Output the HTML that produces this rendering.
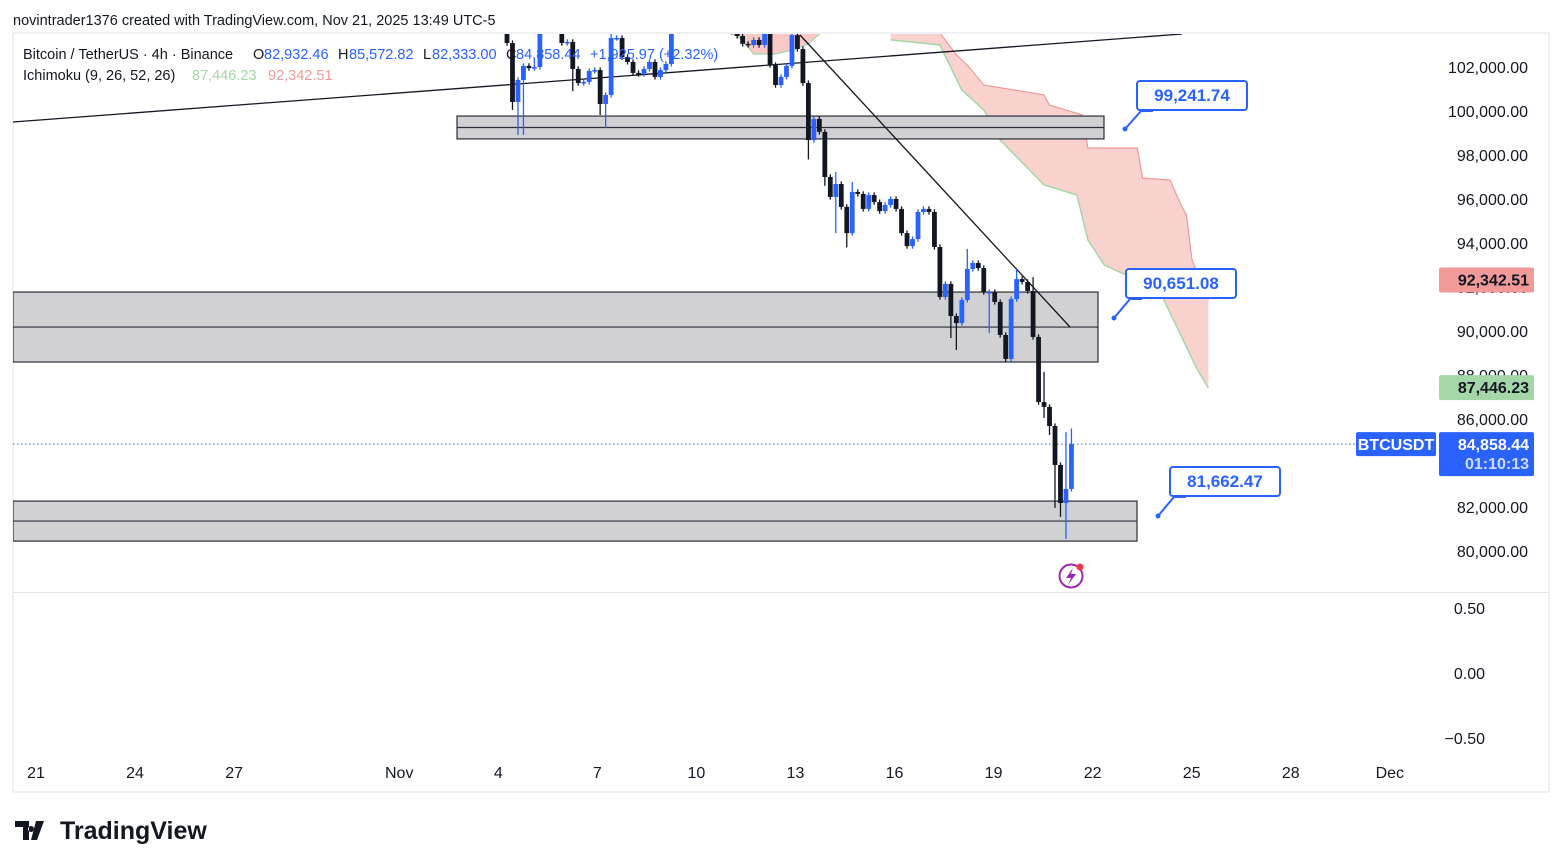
<!DOCTYPE html>
<html><head><meta charset="utf-8">
<style>
html,body{margin:0;padding:0;background:#fff;}
svg{display:block;font-family:"Liberation Sans",sans-serif;}
</style></head>
<body>
<svg id="chart" width="1563" height="868" viewBox="0 0 1563 868">
  <defs><clipPath id="plotclip"><rect x="13" y="34" width="1423" height="558"/></clipPath></defs>
  <rect x="13" y="33" width="1536" height="759" fill="#fff" stroke="#e0e3eb"/>
  <text x="13" y="25" font-size="14.5" fill="#131722">novintrader1376 created with TradingView.com, Nov 21, 2025 13:49 UTC-5</text>
  <g id="plot" clip-path="url(#plotclip)"></g>
  <line x1="13" y1="592.5" x2="1549" y2="592.5" stroke="#e0e3eb"/>
  <g id="axes"></g>
  <g id="overlay"></g>
  <g>
    <path d="M15 821h14v19h-6v-13h-8z M31 826a3 3 0 1 0 0.1 0z M36 821h8l-7 19h-6z" fill="#131722"/>
    <text x="60" y="839" font-size="25" font-weight="bold" fill="#131722">TradingView</text>
  </g>
</svg>
<script>
const closes=[103090,100410,101410,102050,101950,102000,103680,103910,104050,103910,103090,103140,101910,101270,101320,101820,101860,100320,100730,103320,103320,102450,102230,101730,101680,101910,102230,101550,101860,102140,103680,
104200,104800,105300,104900,105600,106000,105400,104700,104300,103900,103600,
103410,103050,103000,103230,103000,103500,102090,101180,101550,102050,103450,102820,101270,98680,99640,99050,97000,96090,96680,95640,94450,96320,96230,95550,96180,95860,95450,95730,96000,95550,94450,93860,94180,95410,95550,95410,93820,91550,92140,90680,90360,91410,92820,93090,92860,91770,91770,91320,89820,88730,91450,92360,92230,91820,89730,86770,86550,85680,83910,82180,82820,84858];
const firstOpen=103500;
const wickHiIdx=[5,6,19,30,52,60,63,84,93,96,98,102,103];
const wickHi=[102400,104300,103900,104500,103900,97230,96770,93730,92800,92450,88140,85400,85572];
const wickLoIdx=[1,2,3,12,17,18,55,58,60,62,81,82,88,91,92,98,99,100,101,102];
const wickLo=[100050,98910,98910,100900,99820,99230,97800,96600,94450,93800,89680,89140,89910,88590,88550,86050,85270,81960,81550,80550];
const spanAIdx=[70,79,83,87,90,98,104,106,109,119,126,128];
const spanA=[103230,103000,100950,100050,98680,96640,96180,94140,93000,91860,88230,87410];
const spanBIdx=[70,79,82,84,87,98,99,105,106,115,116,121,123,124,125,128];
const spanB=[103680,103550,102550,102090,101180,100730,100270,99820,98320,98320,96950,96860,95730,95270,93230,91410];
const cloud2Idx=[41,42,44,45,49,52,55,57];
const cloud2Lo=[103500,103410,102910,102590,102590,102770,103050,103500];
const priceTicks=[102000,100000,98000,96000,94000,92000,90000,88000,86000,84000,82000,80000];
const oscTicks=[0.5,0,-0.5];
const dateTicks=["21","24","27","Nov","4","7","10","13","16","19","22","25","28","Dec"];
const dateDays=[0,3,6,11,14,17,20,23,26,29,32,35,38,41];
const zones=[[99770,98730,457,1104],[91770,88590,13,1098],[82270,80450,13,1137]];
const callouts=[[99241.74,1137,81,1125,129],[90651.08,1126,269,1114,318],[81662.47,1170,467,1158,516]];
const lastPrice=84858.44, spanALast=87446.23, spanBLast=92342.51;

const NS="http://www.w3.org/2000/svg";
const Y=p=>67+(102000-p)*0.022;
const X=i=>507+5.48*i;
const XD=d=>36+33.02*d;
const YO=v=>673-v*130;
function mk(tag,attrs,parent){const e=document.createElementNS(NS,tag);for(const k in attrs)e.setAttribute(k,attrs[k]);parent.appendChild(e);return e;}
const plot=document.getElementById('plot'),axes=document.getElementById('axes'),ov=document.getElementById('overlay');
const fmt=v=>v.toLocaleString('en-US',{minimumFractionDigits:2,maximumFractionDigits:2});

function lin(idx,vals){return idx.map((i,k)=>X(i).toFixed(1)+','+Y(vals[k]).toFixed(1));}
let cp=lin(spanBIdx,spanB).concat(lin(spanAIdx,spanA).reverse());
let cl=mk('polygon',{points:cp.join(' '),fill:'#f8c9c6',opacity:'0.85'},plot);


let la=mk('polyline',{points:lin(spanAIdx,spanA).join(' '),fill:'none',stroke:'#a5d6a7','stroke-width':1.5},plot);


let lb=mk('polyline',{points:lin(spanBIdx,spanB).join(' '),fill:'none',stroke:'#ef9a9a','stroke-width':1.2},plot);


let c2p=lin(cloud2Idx,cloud2Lo).concat([X(57)+',30',X(41)+',30']);
let c2=mk('polygon',{points:c2p.join(' '),fill:'#f8c9c6',stroke:'#a5d6a7','stroke-width':1.2},plot);



zones.forEach(z=>{
  const y1=Y(z[0]),y2=Y(z[1]);
  let r=mk('rect',{x:z[2],y:y1,width:z[3]-z[2],height:y2-y1,fill:'#d1d1d4',stroke:'#2a2e39','stroke-width':1.2},plot);
  
  
  let m=mk('line',{x1:z[2],x2:z[3],y1:(y1+y2)/2,y2:(y1+y2)/2,stroke:'#2a2e39','stroke-width':1.2},plot);
  
  
});

let t1=mk('line',{x1:13,y1:122,x2:1182,y2:34,stroke:'#131722','stroke-width':1.3},plot);


let t2=mk('line',{x1:800,y1:35,x2:1070,y2:327,stroke:'#131722','stroke-width':1.3},plot);



let lp=mk('line',{x1:13,x2:1436,y1:Y(lastPrice),y2:Y(lastPrice),stroke:'#2962ff','stroke-dasharray':'1.5 2.5','stroke-width':1},plot);



closes.forEach((c,i)=>{
  const o=i===0?firstOpen:closes[i-1];
  let hi=Math.max(o,c)+120, lo=Math.min(o,c)-120;
  const hk=wickHiIdx.indexOf(i); if(hk>=0) hi=Math.max(hi,wickHi[hk]);
  const lk=wickLoIdx.indexOf(i); if(lk>=0) lo=Math.min(lo,wickLo[lk]);
  const col=c>=o?'#2962ff':'#131722';
  const x=X(i);
  let g=mk('g',{},plot);
  
  
  mk('line',{x1:x,x2:x,y1:Y(hi),y2:Y(lo),stroke:col,'stroke-width':1.3},g);
  const yt=Y(Math.max(o,c)),yb=Y(Math.min(o,c));
  mk('rect',{x:x-2.4,y:yt,width:4.8,height:Math.max(1.5,yb-yt),fill:col},g);
});

callouts.forEach(c=>{
  const [v,bx,by,dx,dy]=c;
  let g=mk('g',{},ov);
  
  
  mk('path',{d:`M${dx} ${dy} L${bx+4} ${by+30} L${bx+16} ${by+30}`,fill:'#fff',stroke:'#2962ff','stroke-width':2},g);
  mk('rect',{x:bx,y:by,width:110,height:29,rx:3,fill:'#fff',stroke:'#2962ff','stroke-width':2},g);
  mk('circle',{cx:dx,cy:dy,r:2.5,fill:'#2962ff'},g);
  let t=mk('text',{x:bx+55,y:by+20,'text-anchor':'middle','font-size':17,'font-weight':'bold',fill:'#2962ff'},g);
  t.textContent=v.toLocaleString('en-US',{minimumFractionDigits:2});
});

priceTicks.forEach(p=>{
  let t=mk('text',{x:1528,y:Y(p)+6,'text-anchor':'end','font-size':16,fill:'#131722'},axes);
  
  
  t.textContent=fmt(p);
});
oscTicks.forEach(v=>{
  let t=mk('text',{x:1485,y:YO(v)+6,'text-anchor':'end','font-size':16,fill:'#131722'},axes);
  
  
  t.textContent=(v<0?'\u22120.50':v.toFixed(2));
});
dateTicks.forEach((d,k)=>{
  let t=mk('text',{x:XD(dateDays[k]),y:778,'text-anchor':'middle','font-size':16,fill:'#131722'},axes);
  
  
  t.textContent=d;
});
function tag(v,y,h,fill,name,lines,tc){
  let g=mk('g',{},axes);
  
  
  mk('rect',{x:1439,y:y,width:95,height:h,rx:2,fill:fill},g);
  lines.forEach((s,k)=>{let t=mk('text',{x:1529,y:y+18+k*19,'text-anchor':'end','font-size':16,'font-weight':'bold',fill:tc[k]},g);t.textContent=s;});
}
tag(spanBLast,Y(spanBLast)-12,25,'#f09a9a','span-b-price-tag',[fmt(spanBLast)],['#131722']);
tag(spanALast,Y(spanALast)-12,25,'#a5d6a7','span-a-price-tag',[fmt(spanALast)],['#131722']);
tag(lastPrice,Y(lastPrice)-12,44,'#2962ff','last-price-tag',[fmt(lastPrice),'01:10:13'],['#fff','#cfdcff']);
let sym=mk('g',{},axes);


mk('rect',{x:1356,y:Y(lastPrice)-12,width:80,height:24,rx:2,fill:'#2962ff'},sym);
let st=mk('text',{x:1396,y:Y(lastPrice)+6,'text-anchor':'middle','font-size':16,'font-weight':'bold',fill:'#fff'},sym);
st.textContent='BTCUSDT';

let ev=mk('g',{},ov);


mk('circle',{cx:1071,cy:576,r:11.5,fill:'#fff',stroke:'#9c27b0','stroke-width':2},ev);
mk('path',{d:'M1073 568 L1066 578 L1071 578 L1068 585 L1076 574 L1071 574 Z',fill:'#9c27b0'},ev);
mk('circle',{cx:1080,cy:567,r:3.5,fill:'#f23645'},ev);

const legend=mk('g',{},ov);


function txt(x,y,s,fill,name){let t=mk('text',{x:x,y:y,'font-size':14.5,fill:fill},legend);t.textContent=s;return t;}
txt(23,59,'Bitcoin / TetherUS \u00b7 4h \u00b7 Binance','#131722','symbol-title');
txt(253,59,'O','#131722','open-label');txt(264,59,'82,932.46','#2962ff','open-value');
txt(338,59,'H','#131722','high-label');txt(349,59,'85,572.82','#2962ff','high-value');
txt(423,59,'L','#131722','low-label');txt(432,59,'82,333.00','#2962ff','low-value');
txt(506,59,'C','#131722','close-label');txt(516,59,'84,858.44','#2962ff','close-value');
txt(590,59,'+1,925.97 (+2.32%)','#2962ff','change-value');
txt(23,80,'Ichimoku (9, 26, 52, 26)','#131722','indicator-title');
txt(192,80,'87,446.23','#a5d6a7','span-a-value');
txt(268,80,'92,342.51','#ef9a9a','span-b-value');
</script>
</body></html>
